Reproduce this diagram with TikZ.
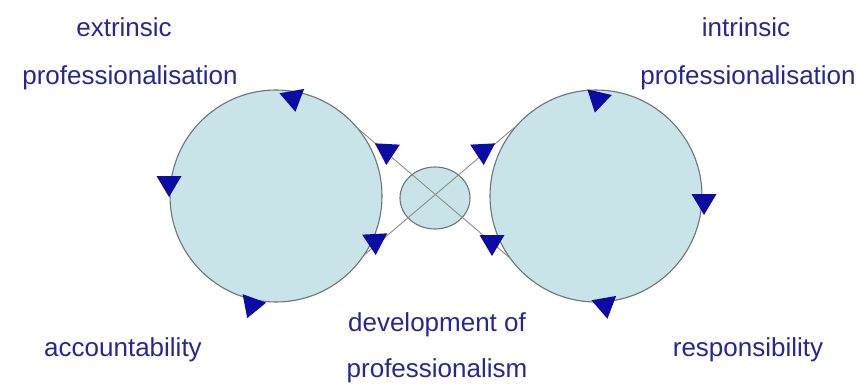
\documentclass[tikz,border=0pt]{standalone}
\usepackage{fontspec}
\setmainfont{Liberation Sans}
\usetikzlibrary{shapes.geometric}
\definecolor{blobfill}{RGB}{200,228,232}
\definecolor{blobline}{RGB}{105,118,118}
\definecolor{linkgray}{RGB}{140,140,140}
\definecolor{tipblue}{RGB}{12,12,165}
\definecolor{txtblue}{RGB}{38,38,150}
\tikzset{
  blob/.style={circle, draw=blobline, fill=blobfill, line width=1.1pt, minimum size=212pt, inner sep=0pt, outer sep=0pt},
  hub/.style={ellipse, draw=blobline, fill=blobfill, line width=1.1pt, minimum width=70pt, minimum height=62pt, inner sep=0pt, outer sep=0pt},
  link/.style={draw=linkgray, line width=0.9pt},
  lbl/.style={text=txtblue, font=\fontsize{26}{30}\selectfont, inner sep=0pt, anchor=base},
  tri/.pic={\fill[tipblue] (-12.5,-7) -- (12.5,-7) -- (0,14) -- cycle;}
}
\begin{document}
\begin{tikzpicture}[x=1pt,y=-1pt]
\useasboundingbox (0,0) rectangle (857,383);
% circles and hub
\node[blob] (L) at (276,196) {};
\node[blob] (R) at (596,196) {};
\node[hub] (M) at (435,198) {};
% crossing connectors
\draw[link] (L.40) -- (R.-144);
\draw[link] (R.138) -- (L.-34);
% arrowheads on the left circle
\pic[rotate=10] at (293,98) {tri};
\pic at (169,183) {tri};
\pic[rotate=-20] at (252,305) {tri};
% arrowheads on the crossing lines
\pic[rotate=-3] at (387,151) {tri};
\pic[rotate=3] at (375,241) {tri};
\pic[rotate=3] at (483,151) {tri};
\pic at (492,242) {tri};
% arrowheads on the right circle
\pic[rotate=-13] at (598,99) {tri};
\pic at (704,201) {tri};
\pic[rotate=10] at (605,305) {tri};
% labels
\node[lbl] (ext1) at (124,36) {extrinsic};
\node[lbl] (ext2) at (130,84) {professionalisation};
\node[lbl] (int1) at (746,36) {intrinsic};
\node[lbl] (int2) at (748,84) {professionalisation};
\node[lbl] (acc) at (123,356) {accountability};
\node[lbl] (dev1) at (437,331) {development of};
\node[lbl] (dev2) at (437,377) {professionalism};
\node[lbl] (resp) at (748,356) {responsibility};
\end{tikzpicture}
\end{document}
